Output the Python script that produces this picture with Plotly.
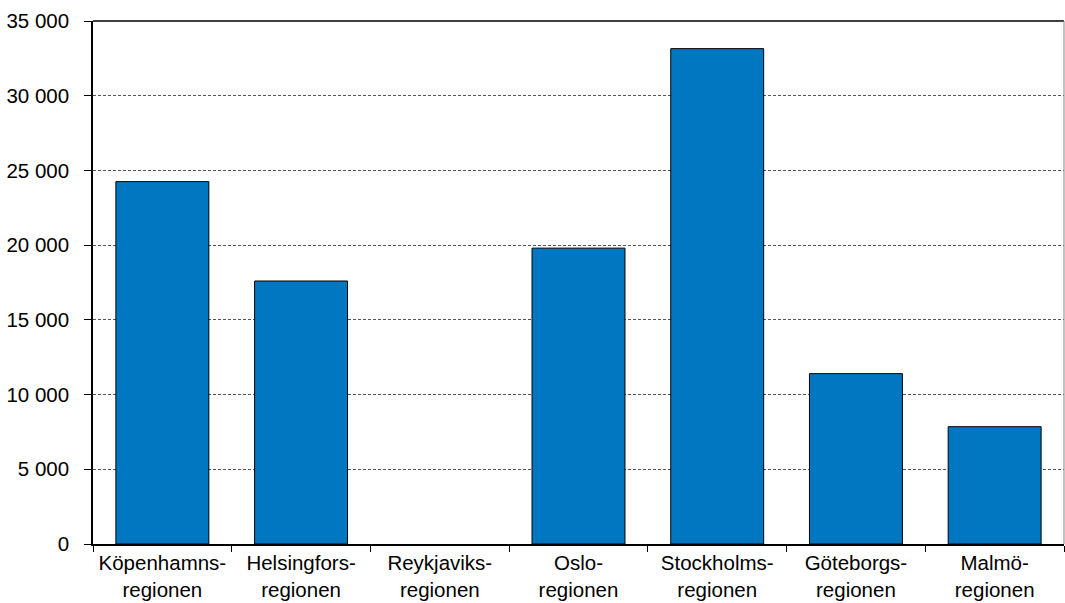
import plotly.graph_objects as go

categories = ["Köpenhamns-<br>regionen", "Helsingfors-<br>regionen", "Reykjaviks-<br>regionen",
              "Oslo-<br>regionen", "Stockholms-<br>regionen", "Göteborgs-<br>regionen", "Malmö-<br>regionen"]
values = [24250, 17600, None, 19800, 33150, 11400, 7850]
y_ticks = [0, 5000, 10000, 15000, 20000, 25000, 30000, 35000]
y_tick_labels = ["0", "5 000", "10 000", "15 000", "20 000", "25 000", "30 000", "35 000"]

fig = go.Figure(go.Bar(
    x=categories, y=values,
    marker=dict(color="#0077C0", line=dict(color="black", width=1)),
    width=0.67,
))

fig.update_layout(
    width=1065, height=603,
    margin=dict(l=93, r=1, t=21, b=59),
    paper_bgcolor="white", plot_bgcolor="white",
    font=dict(family="Liberation Sans, Arial, sans-serif", size=21, color="black"),
    showlegend=False,
    shapes=[
        dict(type="line", xref="paper", yref="paper", x0=0, x1=1, y0=1, y1=1,
             line=dict(color="black", width=1.5)),
        dict(type="line", xref="paper", yref="paper", x0=1, x1=1, y0=0, y1=1,
             line=dict(color="#888888", width=1)),
    ],
)
fig.update_xaxes(
    type="category", tickson="boundaries", ticks="outside", ticklen=6,
    tickcolor="black", showline=True, linecolor="black", linewidth=1.5,
    showgrid=False, tickfont=dict(size=20.5), tickangle=0, automargin=False,
    ticklabelstandoff=0,
)
fig.update_yaxes(
    range=[0, 35000], tickvals=y_ticks, ticktext=y_tick_labels,
    ticks="outside", ticklen=7, tickcolor="black",
    showline=True, linecolor="black", linewidth=1.5,
    showgrid=True, gridcolor="#555555", gridwidth=1, griddash="3px,2px",
    zeroline=False, tickfont=dict(size=20.5), automargin=False,
    ticklabelstandoff=11,
)

fig.write_html("out.html", config={"displayModeBar": False},
               post_script="document.body.style.margin='0';document.body.style.overflow='hidden';")
